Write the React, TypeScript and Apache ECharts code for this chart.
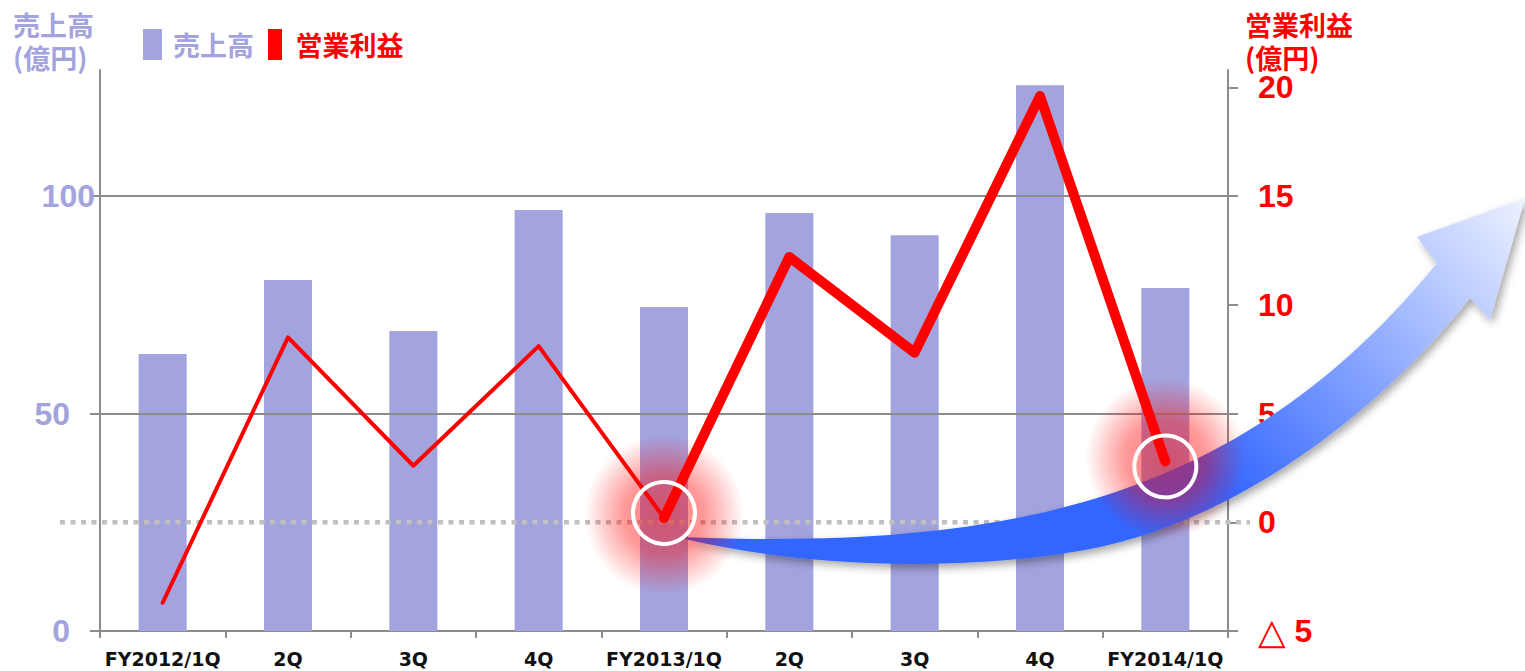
import React, { useEffect, useRef } from "react";
import * as echarts from "echarts";

// ---- data ----
const categories = ["FY2012/1Q", "2Q", "3Q", "4Q", "FY2013/1Q", "2Q", "3Q", "4Q", "FY2014/1Q"];
const salesValues = [63.7, 80.7, 69.0, 96.8, 74.5, 96.1, 91.0, 125.5, 78.9];
const profitEarly = [-3.7, 8.5, 2.6, 8.1, 0.2, null, null, null, null];
const profitLate = [null, null, null, null, 0.2, 12.2, 7.8, 19.6, 2.8];
const highlightTexts = ["", "", "", "", "0.2", "", "", "", "3"];
const highlightIndexes = [4, 8];
const leftTicks = [0, 50, 100];
const rightTicks = [-5, 0, 5, 10, 15, 20];

const LAVENDER = "#a3a3de";
const RED = "#ff0000";
const GRAY = "#8c8c8c";
const JP = "'Noto Sans CJK JP', sans-serif";
const NUM = "'Liberation Sans', Arial, sans-serif";

const ARROW_D =
  "M 680 537 C 1000 550 1240 505 1437 263 L 1417 237 L 1525 198 L 1490 320 L 1470 298 " +
  "C 1390 400 1250 515 1100 547 C 1020 564 850 578 680 538 Z";

let registered = false;
function ensureShape() {
  if (registered) return;
  echarts.graphic.registerShape("bigArrow", echarts.graphic.extendPath(ARROW_D, {}) as any);
  registered = true;
}

export default function App() {
  const ref = useRef<HTMLDivElement>(null);

  useEffect(() => {
    if (!ref.current) return;
    ensureShape();
    const chart = echarts.init(ref.current, null, { renderer: "svg" });

    const lateData = profitLate.map((v, i) =>
      highlightTexts[i]
        ? {
            value: v,
            label: {
              show: true,
              position: "top",
              distance: i === 8 ? 88 : 80,
              formatter: highlightTexts[i],
              color: RED,
              fontSize: 44,
              fontWeight: "bold",
              fontFamily: NUM,
              textBorderColor: "#ffffff",
              textBorderWidth: 3,
              textShadowColor: "#ffffff",
              textShadowBlur: 10,
            },
          }
        : v
    );

    const titleStyle = (color: string) => ({
      color,
      fontSize: 27,
      fontWeight: "bold",
      fontFamily: JP,
      lineHeight: 33,
    });

    const option: any = {
      animation: false,
      backgroundColor: "#ffffff",
      title: [
        { text: "売上高\n(億円)", left: 13, top: 8, padding: 0, textStyle: titleStyle(LAVENDER) },
        { text: "営業利益\n(億円)", left: 1245, top: 8, padding: 0, textStyle: titleStyle(RED) },
      ],
      legend: {
        left: 143,
        top: 29,
        padding: 0,
        itemWidth: 19,
        itemHeight: 31,
        itemGap: 14,
        selectedMode: false,
        textStyle: { fontSize: 27, fontWeight: "bold", fontFamily: JP, padding: [0, 0, 0, 6] },
        data: [
          { name: "売上高", icon: "rect", itemStyle: { color: LAVENDER }, textStyle: { color: LAVENDER } },
          {
            name: "営業利益",
            icon: "path://M0,0 L14,0 L14,31 L0,31 Z",
            itemStyle: { color: RED },
            textStyle: { color: RED },
          },
        ],
      },
      grid: { left: 100, right: 297, top: 70, bottom: 40, containLabel: false, outerBoundsMode: "none" },
      xAxis: {
        type: "category",
        data: categories,
        boundaryGap: true,
        axisLine: { show: true, lineStyle: { color: GRAY, width: 2 } },
        axisTick: { show: true, length: 7, alignWithLabel: false, interval: 0, lineStyle: { color: GRAY, width: 2 } },
        axisLabel: {
          interval: 0,
          margin: 18,
          color: "#111111",
          fontSize: 19,
          fontWeight: "bold",
          fontFamily: "'DejaVu Sans', sans-serif",
        },
        splitLine: { show: false },
      },
      yAxis: [
        {
          type: "value",
          position: "left",
          min: 0,
          max: 129,
          interval: 50,
          axisLine: { show: true, lineStyle: { color: GRAY, width: 2 } },
          axisTick: { show: true, length: 10, customValues: leftTicks, lineStyle: { color: GRAY, width: 2 } },
          axisLabel: {
            customValues: leftTicks,
            margin: 5,
            formatter: (v: number) => (v >= 100 ? `{w|${v}}` : `{n|${v}}`),
            rich: {
              w: { color: LAVENDER, fontSize: 32, fontWeight: "bold", fontFamily: NUM },
              n: { color: LAVENDER, fontSize: 32, fontWeight: "bold", fontFamily: NUM, padding: [0, 25, 0, 0] },
            },
          },
          splitLine: { show: false },
        },
        {
          type: "value",
          position: "right",
          min: -5,
          max: 20.8,
          interval: 5,
          axisLine: { show: true, lineStyle: { color: GRAY, width: 2 } },
          axisTick: { show: true, length: 10, customValues: rightTicks, lineStyle: { color: GRAY, width: 2 } },
          axisLabel: {
            customValues: rightTicks,
            margin: 30,
            color: RED,
            fontSize: 32,
            fontWeight: "bold",
            fontFamily: NUM,
            formatter: (v: number) => (v < 0 ? `{t|△} ${Math.abs(v)}` : String(v)),
            rich: {
              t: { color: RED, fontSize: 36, fontFamily: "'DejaVu Sans', sans-serif" },
            },
          },
          splitLine: { show: false },
        },
      ],
      series: [
        {
          name: "grid",
          type: "line",
          data: [],
          z: 1,
          silent: true,
          markLine: {
            silent: true,
            symbol: "none",
            label: { show: false },
            lineStyle: { color: GRAY, width: 2, type: "solid" },
            data: leftTicks.filter((v) => v > 0).map((v) => ({ yAxis: v })),
          },
        },
        {
          name: "売上高",
          type: "bar",
          data: salesValues,
          barWidth: 48,
          itemStyle: { color: LAVENDER },
          z: 2,
        },
        {
          name: "営業利益",
          type: "line",
          yAxisIndex: 1,
          data: profitEarly,
          symbol: "none",
          connectNulls: false,
          lineStyle: { color: RED, width: 4, cap: "round", join: "round" },
          itemStyle: { color: RED },
          z: 6,
        },
        {
          name: "営業利益",
          type: "line",
          yAxisIndex: 1,
          data: lateData,
          symbol: "none",
          showSymbol: false,
          connectNulls: false,
          lineStyle: { color: RED, width: 10, cap: "round", join: "round" },
          itemStyle: { color: RED },
          z: 6,
        },
      ],
    };

    chart.setOption(option);

    const zero = chart.convertToPixel({ seriesIndex: 3 }, [0, 0]) as number[];
    const pts = highlightIndexes.map(
      (i) => chart.convertToPixel({ seriesIndex: 3 }, [i, profitLate[i] as number]) as number[]
    );
    const ringShift = [-5, 5];

    const graphics: any[] = [
      {
        type: "line",
        shape: { x1: 60, y1: zero[1], x2: 1250, y2: zero[1] },
        style: { stroke: "#c0c0c0", lineWidth: 4.5, lineDash: [5, 5.5] },
        z: 3,
        silent: true,
      },
      {
        type: "bigArrow",
        x: 0,
        y: 0,
        silent: true,
        z: 4,
        style: {
          fill: new echarts.graphic.LinearGradient(
            1210,
            475,
            1525,
            198,
            [
              { offset: 0, color: "#3366ff" },
              { offset: 1, color: "#eef2ff" },
            ],
            true
          ),
          shadowBlur: 8,
          shadowOffsetX: 3,
          shadowOffsetY: 4,
          shadowColor: "rgba(0,0,0,0.35)",
        },
      },
    ];
    pts.forEach((p, k) => {
      graphics.push({
        type: "circle",
        silent: true,
        z: 5,
        shape: { cx: p[0], cy: p[1] - 3, r: 80 },
        style: {
          fill: new echarts.graphic.RadialGradient(0.5, 0.5, 0.5, [
            { offset: 0, color: "rgba(255,0,0,0.5)" },
            { offset: 0.5, color: "rgba(255,0,0,0.4)" },
            { offset: 1, color: "rgba(255,0,0,0)" },
          ]),
        },
      });
      graphics.push({
        type: "circle",
        silent: true,
        z: 7,
        shape: { cx: p[0], cy: p[1] + ringShift[k], r: 31 },
        style: { fill: "none", stroke: "#ffffff", lineWidth: 4 },
      });
    });

    chart.setOption({ graphic: graphics });

    return () => chart.dispose();
  }, []);

  return (
    <div
      ref={ref}
      style={{ position: "fixed", left: 0, top: 0, width: 1525, height: 671, background: "#ffffff" }}
    />
  );
}
